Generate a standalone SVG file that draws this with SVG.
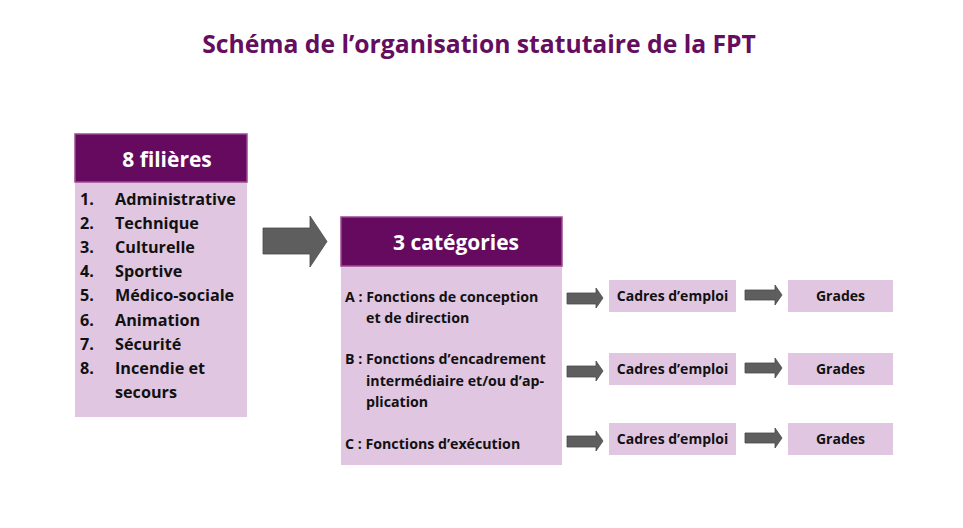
<svg xmlns="http://www.w3.org/2000/svg" width="963" height="528" viewBox="0 0 963 528">
<style>
text{font-family:"Open Sans","Liberation Sans",sans-serif;font-weight:bold}
.title{font-size:24.7px;fill:#650d5e}
.hdr{fill:#650a5e;stroke:#9a4b93;stroke-width:1.5}
.body{fill:#e0c6e0}
.ht{font-size:21px;fill:#ffffff}
.lt{font-size:16.2px;fill:#111}
.mt{font-size:14.2px;fill:#111}
.bt{font-size:14px;fill:#111}
.arr{fill:#5e5e5e;stroke:#4a4a4a;stroke-width:0.8}
</style>
<text class="title" x="479" y="53" text-anchor="middle">Schéma de l’organisation statutaire de la FPT</text>
<g id="filieres">
<rect class="body" x="75" y="182" width="172" height="235"/>
<rect class="hdr" x="75" y="134" width="172" height="48"/>
<text class="ht" x="167" y="167" text-anchor="middle">8 filières</text>
<text class="lt" x="80" y="205">1.</text><text class="lt" x="115" y="205">Administrative</text>
<text class="lt" x="80" y="229">2.</text><text class="lt" x="115" y="229">Technique</text>
<text class="lt" x="80" y="253">3.</text><text class="lt" x="115" y="253">Culturelle</text>
<text class="lt" x="80" y="277">4.</text><text class="lt" x="115" y="277">Sportive</text>
<text class="lt" x="80" y="301">5.</text><text class="lt" x="115" y="301">Médico-sociale</text>
<text class="lt" x="80" y="326">6.</text><text class="lt" x="115" y="326">Animation</text>
<text class="lt" x="80" y="350">7.</text><text class="lt" x="115" y="350">Sécurité</text>
<text class="lt" x="80" y="374">8.</text><text class="lt" x="115" y="374">Incendie et</text>
<text class="lt" x="115" y="398">secours</text>
</g>
<g id="categories">
<rect class="body" x="341" y="266" width="221" height="199"/>
<rect class="hdr" x="341" y="217" width="221" height="49"/>
<text class="ht" x="456" y="250" text-anchor="middle">3 catégories</text>
<text class="mt" x="345" y="302">A : Fonctions de conception</text>
<text class="mt" x="366" y="323">et de direction</text>
<text class="mt" x="345" y="364">B : Fonctions d’encadrement</text>
<text class="mt" x="366" y="386">intermédiaire et/ou d’ap-</text>
<text class="mt" x="366" y="407">plication</text>
<text class="mt" x="345" y="449">C : Fonctions d’exécution</text>
</g>
<g id="cadres1"><rect class="body" x="609" y="280" width="127" height="32"/><text class="bt" x="672.5" y="301" text-anchor="middle">Cadres d’emploi</text></g>
<g id="cadres2"><rect class="body" x="609" y="353" width="127" height="32"/><text class="bt" x="672.5" y="374" text-anchor="middle">Cadres d’emploi</text></g>
<g id="cadres3"><rect class="body" x="609" y="423" width="127" height="32"/><text class="bt" x="672.5" y="444" text-anchor="middle">Cadres d’emploi</text></g>
<g id="grades1"><rect class="body" x="788" y="280" width="105" height="32"/><text class="bt" x="840.5" y="301" text-anchor="middle">Grades</text></g>
<g id="grades2"><rect class="body" x="788" y="353" width="105" height="32"/><text class="bt" x="840.5" y="374" text-anchor="middle">Grades</text></g>
<g id="grades3"><rect class="body" x="788" y="423" width="105" height="32"/><text class="bt" x="840.5" y="444" text-anchor="middle">Grades</text></g>
<g id="connectors">
<polygon class="arr" points="263,228 310,228 310,216 327,241.5 310,267 310,254 263,254"/>
<polygon class="arr" points="567,293 596,293 596,288 603,298 596,308 596,304 567,304"/>
<polygon class="arr" points="567,366 596,366 596,361 603,371 596,381 596,377 567,377"/>
<polygon class="arr" points="567,436 596,436 596,431 603,441 596,451 596,447 567,447"/>
<polygon class="arr" points="745,290 775,290 775,285 782,295 775,305 775,300 745,300"/>
<polygon class="arr" points="745,363 775,363 775,358 782,368 775,378 775,373 745,373"/>
<polygon class="arr" points="745,433 775,433 775,428 782,438 775,448 775,443 745,443"/>
</g>
</svg>
